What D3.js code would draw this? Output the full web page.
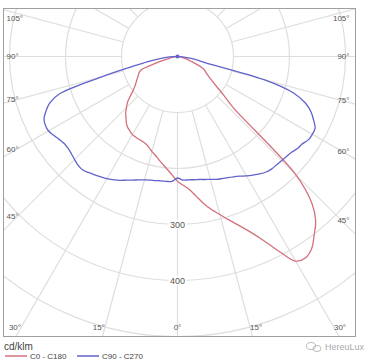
<!DOCTYPE html>
<html>
<head>
<meta charset="utf-8">
<script src="https://cdn.jsdelivr.net/npm/d3@7"></script>
<style>
  body { margin: 0; background: #fff; }
  svg text { font-family: "Liberation Sans", Arial, sans-serif; fill: #555; }
</style>
</head>
<body>
<svg id="chart" width="384" height="363"></svg>
<script>
(function(){
    'use strict';

    /*******************************************************************
     *                              DATA                               *
     *******************************************************************/

    //Gamma angles in degrees, measured from nadir (shared by every half plane)
    var gammas = [0, 2.5, 5, 7.5, 10, 12.5, 15, 17.5, 20, 22.5, 25, 27.5, 30,
                  32.5, 35, 37.5, 40, 42.5, 45, 47.5, 50, 52.5, 55, 57.5, 60,
                  62.5, 65, 67.5, 70, 72.5, 75, 77.5, 80, 82.5, 85, 87.5, 90];

    //Luminous intensity, cd/klm
    var c0Values   = [223, 230, 238, 251, 266, 280, 292, 306, 321, 339, 362, 392, 422,
                      426, 418, 401, 384, 355, 300, 135, 108, 88, 75, 66, 60,
                      55, 50, 40, 27, 20, 15, 11, 8, 5, 3, 1, 0];
    var c180Values = [223, 212, 203, 195, 188, 181, 176, 170, 166, 164, 163, 162, 161,
                      158, 155, 150, 143, 137, 129, 121, 110, 100, 93, 88, 84,
                      80, 77, 74, 68, 45, 25, 15, 10, 6, 3, 1, 0];
    var c90Values  = [217, 221, 221, 222, 223, 225, 227, 230, 232, 234, 237, 241, 246,
                      251, 256, 260, 262, 262, 263, 264, 266, 270, 272, 277, 278,
                      277, 268, 258, 243, 218, 160, 50, 35, 22, 12, 5, 0];
    var c270Values = [217, 223, 224, 224, 225, 226, 228, 231, 235, 239, 244, 248, 252,
                      255, 258, 261, 264, 263, 260, 257, 255, 255, 258, 262, 266,
                      266, 263, 254, 243, 220, 140, 82, 55, 35, 20, 8, 0];

    var seriesNames  = ['C0 - C180', 'C90 - C270'];
    var seriesColors = ['#d4707c', '#6262cc'];

    var ringValues = [100, 200, 300, 400, 500, 600];
    var ringLabels = [300, 400];
    var angleTicks = [0, 15, 30, 45, 60, 75, 90, 105];
    var unitLabel  = 'cd/klm';
    var watermark  = 'HereuLux';

    /*******************************************************************
     *                             LAYOUT                              *
     *******************************************************************/

    var box = { x0: 3.5, y0: 8.5, x1: 355.5, y1: 336.5 };
    var cx = 177.5,
        cy = 56.5;
    var gridColor = '#dedede';

    var svg = d3.select('#chart');

    var rScale = d3.scaleLinear()
        .domain([0, 100])
        .range([0, 56]);

    svg.append('clipPath')
        .attr('id', 'plot-clip')
        .append('rect')
        .attr('x', box.x0)
        .attr('y', box.y0)
        .attr('width', box.x1 - box.x0)
        .attr('height', box.y1 - box.y0);

    var plot = svg.append('g')
        .attr('clip-path', 'url(#plot-clip)')
        .append('g')
        .attr('transform', 'translate(' + cx + ',' + cy + ')');

    /*******************************************************************
     *                              GRID                               *
     *******************************************************************/

    plot.selectAll('circle.ring')
        .data(ringValues)
        .enter()
        .append('circle')
        .attr('class', 'ring')
        .attr('r', function(d) { return rScale(d); })
        .attr('fill', 'none')
        .attr('stroke', gridColor)
        .attr('stroke-width', 1.2);

    //Radial spokes every 15 degrees, starting at the first ring
    var spokes = d3.range(0, 360, 15);
    plot.selectAll('line.spoke')
        .data(spokes)
        .enter()
        .append('line')
        .attr('class', 'spoke')
        .attr('x1', function(d) { return rScale(ringValues[0]) * Math.sin(d * Math.PI / 180); })
        .attr('y1', function(d) { return rScale(ringValues[0]) * Math.cos(d * Math.PI / 180); })
        .attr('x2', function(d) { return 600 * Math.sin(d * Math.PI / 180); })
        .attr('y2', function(d) { return 600 * Math.cos(d * Math.PI / 180); })
        .attr('stroke', gridColor)
        .attr('stroke-width', 1.2);

    //Ring value labels on the nadir axis
    var ringText = plot.selectAll('g.ring-label')
        .data(ringLabels)
        .enter()
        .append('g')
        .attr('class', 'ring-label')
        .attr('transform', function(d) { return 'translate(0,' + rScale(d) + ')'; });

    ringText.append('rect')
        .attr('x', -9).attr('y', -5)
        .attr('width', 18).attr('height', 10)
        .attr('fill', '#fff');

    ringText.append('text')
        .attr('text-anchor', 'middle')
        .attr('dy', '0.35em')
        .style('font-size', '9px')
        .text(function(d) { return d; });

    /*******************************************************************
     *                             CURVES                              *
     *******************************************************************/

    //Builds one closed plane: left half (gamma 90 -> 0) then right half (0 -> 90)
    function planePoints(leftValues, rightValues) {
        var pts = [];
        for (var i = gammas.length - 1; i >= 0; i--) {
            pts.push([Math.PI + gammas[i] * Math.PI / 180, rScale(leftValues[i])]);
        }
        for (var j = 1; j < gammas.length; j++) {
            pts.push([Math.PI - gammas[j] * Math.PI / 180, rScale(rightValues[j])]);
        }
        return pts;
    }

    var radial = d3.lineRadial()
        .angle(function(d) { return d[0]; })
        .radius(function(d) { return d[1]; })
        .curve(d3.curveCatmullRom.alpha(0.5));

    var planes = [
        planePoints(c180Values, c0Values),
        planePoints(c270Values, c90Values)
    ];

    plot.selectAll('path.plane')
        .data(planes)
        .enter()
        .append('path')
        .attr('class', 'plane')
        .attr('d', radial)
        .attr('fill', 'none')
        .attr('stroke', function(d, i) { return seriesColors[i]; })
        .attr('stroke-width', 1.3)
        .attr('stroke-linejoin', 'round');

    plot.append('circle')
        .attr('r', 2)
        .attr('fill', seriesColors[1]);

    /*******************************************************************
     *                              FRAME                              *
     *******************************************************************/

    svg.append('rect')
        .attr('x', box.x0)
        .attr('y', box.y0)
        .attr('width', box.x1 - box.x0)
        .attr('height', box.y1 - box.y0)
        .attr('fill', 'none')
        .attr('stroke', '#a0a0a0')
        .attr('stroke-width', 1);

    //Angle labels where each spoke meets an inset rectangle
    var inset = { l: box.x0 + 14, r: box.x1 - 14, t: box.y0 + 10, b: box.y1 - 9 };
    var angleLabels = [];
    angleTicks.forEach(function(a) {
        (a === 0 ? [1] : [-1, 1]).forEach(function(side) {
            var ux = side * Math.sin(a * Math.PI / 180),
                uy = Math.cos(a * Math.PI / 180);
            var tSide = ux === 0 ? Infinity : ((ux < 0 ? inset.l : inset.r) - cx) / ux;
            var tBottom = uy > 1e-9 ? (inset.b - cy) / uy : Infinity;
            var lab = { text: a + '°' };
            if (tBottom < tSide) {
                lab.x = cx + ux * tBottom;
                lab.y = inset.b;
                lab.anchor = a === 0 ? 'middle' : (side < 0 ? 'end' : 'start');
            } else {
                lab.y = Math.max(inset.t, cy + uy * tSide);
                lab.x = side < 0 ? box.x0 + 3 : box.x1 - 6;
                lab.anchor = side < 0 ? 'start' : 'end';
            }
            angleLabels.push(lab);
        });
    });

    svg.selectAll('text.angle')
        .data(angleLabels)
        .enter()
        .append('text')
        .attr('class', 'angle')
        .attr('x', function(d) { return d.x; })
        .attr('y', function(d) { return d.y; })
        .attr('dy', '0.35em')
        .attr('text-anchor', function(d) { return d.anchor; })
        .style('font-size', '8px')
        .text(function(d) { return d.text; });

    /*******************************************************************
     *                             LEGEND                              *
     *******************************************************************/

    svg.append('text')
        .attr('x', 4)
        .attr('y', 350)
        .style('font-size', '10px')
        .style('fill', '#444')
        .text(unitLabel);

    var legendX = d3.scaleOrdinal().domain(seriesNames).range([5, 77]);
    var legend = svg.selectAll('g.legend')
        .data(seriesNames)
        .enter()
        .append('g')
        .attr('class', 'legend')
        .attr('transform', function(d) { return 'translate(' + legendX(d) + ',356)'; });

    legend.append('line')
        .attr('x1', 0).attr('x2', 22)
        .attr('stroke', function(d, i) { return seriesColors[i]; })
        .attr('stroke-width', 1.5);

    legend.append('text')
        .attr('x', 25)
        .attr('dy', '0.35em')
        .style('font-size', '8px')
        .style('fill', '#444')
        .text(function(d) { return d; });

    //Watermark
    var wm = svg.append('g').attr('transform', 'translate(307,347)');
    wm.append('ellipse').attr('cx', 4).attr('cy', -1).attr('rx', 4.5).attr('ry', 3.5)
        .attr('fill', 'none').attr('stroke', '#bbb');
    wm.append('ellipse').attr('cx', 10).attr('cy', 1.5).attr('rx', 4).attr('ry', 3)
        .attr('fill', 'none').attr('stroke', '#bbb');
    wm.append('text')
        .attr('x', 18)
        .attr('dy', '0.35em')
        .style('font-size', '9px')
        .style('fill', '#aaa')
        .text(watermark);
})();
</script>
</body>
</html>
